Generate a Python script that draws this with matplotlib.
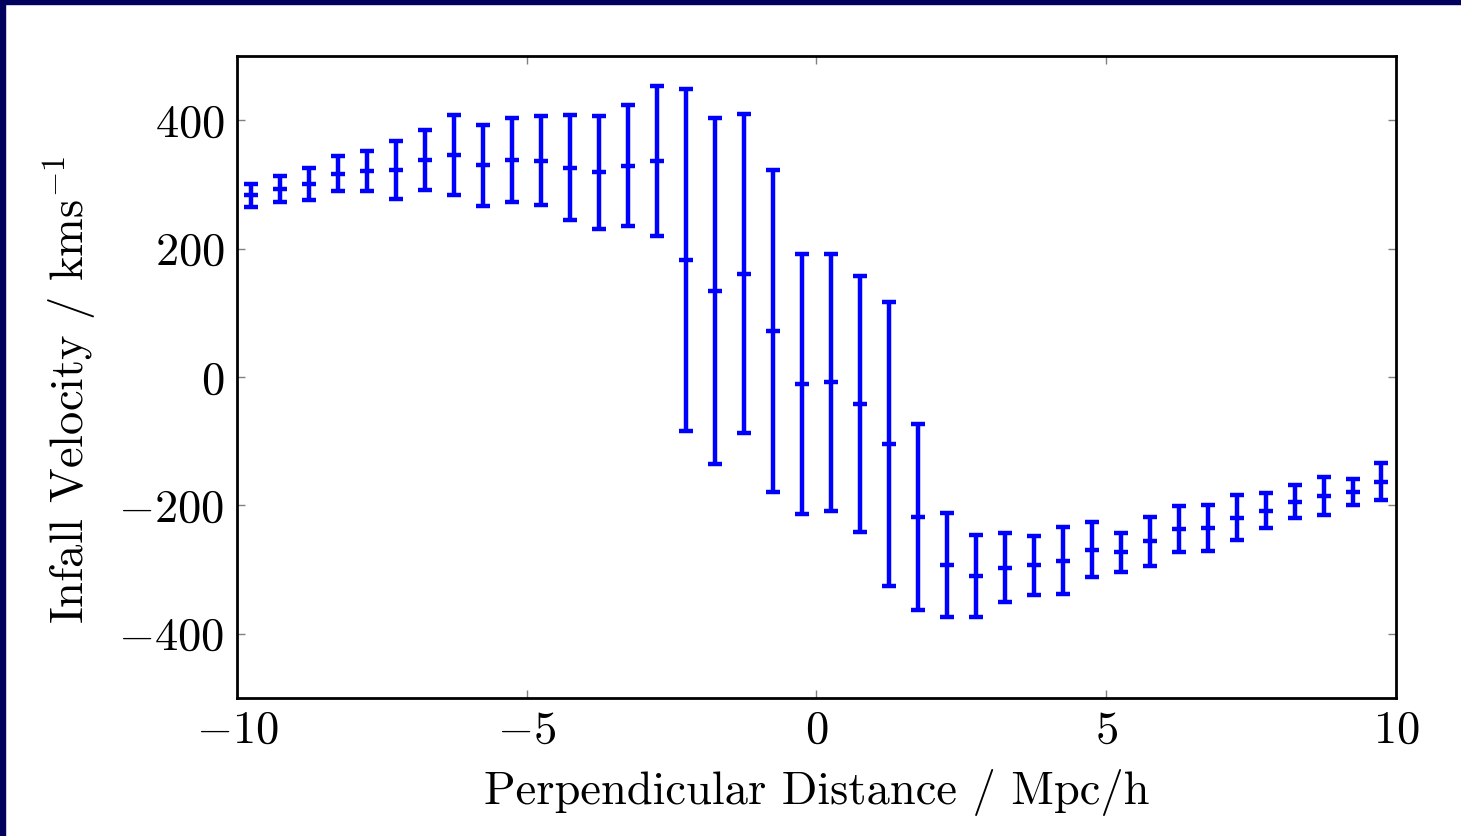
import numpy as np
import matplotlib
matplotlib.use('Agg')
import matplotlib.pyplot as plt
from matplotlib.patches import Rectangle

plt.rcParams['font.family'] = 'serif'
plt.rcParams['font.serif'] = ['cmr10']
plt.rcParams['mathtext.fontset'] = 'cm'
plt.rcParams['axes.formatter.use_mathtext'] = True
plt.rcParams['axes.unicode_minus'] = True

# bin centres along the perpendicular distance
distance = np.arange(-9.75, 10.0, 0.5)

# mean infall velocity per bin (km/s)
velocity = [283, 293, 301, 317, 321, 323, 338, 346, 330, 338,
            337, 326, 319, 329, 337, 182, 134, 161, 72, -11,
            -8, -42, -104, -218, -293, -310, -297, -293, -286, -269,
            -273, -256, -237, -235, -219, -208, -194, -185, -179, -163]

# symmetric error per bin
error = [18, 20, 25, 28, 31, 45, 46, 62, 63, 65,
         69, 82, 88, 94, 117, 266, 270, 248, 251, 203,
         200, 200, 221, 145, 81, 64, 54, 46, 52, 43,
         30, 38, 36, 36, 35, 27, 26, 30, 20, 29]

xticks = [-10, -5, 0, 5, 10]
yticks = [-400, -200, 0, 200, 400]

fig = plt.figure(figsize=(14.61, 8.36), dpi=100)
ax = fig.add_axes([0.1622, 0.165, 0.7933, 0.768])

ax.errorbar(distance, velocity, yerr=error, fmt='_', color='b', ecolor='b',
            elinewidth=3.2, capsize=5.2, capthick=3.2, markersize=10.4, mew=3.2)

ax.set_xlim(-10, 10)
ax.set_ylim(-500, 500)
ax.set_xticks(xticks)
ax.set_yticks(yticks)
ax.tick_params(direction='in', length=6, width=1, color='0.5',
               top=True, right=True, labelsize=33.5, pad=9)
for sp in ax.spines.values():
    sp.set_linewidth(2)

ax.set_xlabel('Perpendicular Distance / Mpc/h', fontsize=33.5, labelpad=12)
ax.set_ylabel(r'Infall Velocity / kms$^{-1}$', fontsize=33.5)
ax.yaxis.set_label_coords(-0.119, 0.48)

# dark frame strips at the image edge
fig.patches.append(Rectangle((0, 0), 5 / 1461, 1, transform=fig.transFigure,
                             color='#02025e', zorder=10))
fig.patches.append(Rectangle((0, 1 - 4 / 836), 1, 4 / 836, transform=fig.transFigure,
                             color='#02025e', zorder=10))

plt.savefig('out.png', dpi=100)
